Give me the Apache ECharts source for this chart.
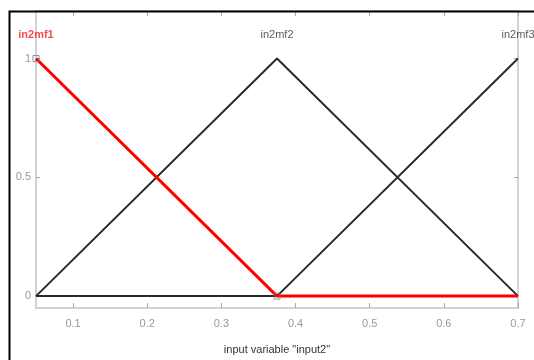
<!DOCTYPE html>
<html>
<head>
<meta charset="utf-8">
<script src="https://cdn.jsdelivr.net/npm/echarts@6/dist/echarts.min.js"></script>
<style>
html,body{margin:0;padding:0;background:#fff;}
#chart{width:534px;height:360px;}
</style>
</head>
<body>
<div id="chart"></div>
<script>
// input2 的三个三角隶属函数
var xPoints = [0.05, 0.375, 0.7];
var mf1 = [1, 0, 0];
var mf2 = [0, 1, 0];
var mf3 = [0, 0, 1];
var mfNames = ['in2mf1', 'in2mf2', 'in2mf3'];
var labelY = 1.1;
var xTicks = [0.1, 0.2, 0.3, 0.4, 0.5, 0.6, 0.7];
var yTicks = [0, 0.5, 1];
var selectedVerts = [[0.05, 1], [0.375, 0]];

var font = '"Liberation Sans Narrow", "Liberation Sans", sans-serif';

function pairs(ys) {
	return xPoints.map(function (x, i) { return [x, ys[i]]; });
}

var axisGray = '#c4c4c4';

function xAxisCfg(pos, showLabel) {
	return {
		type: 'value', position: pos, min: 0.05, max: 0.7,
		axisLine: { show: true, onZero: false, lineStyle: { color: axisGray, width: 1.5 } },
		axisTick: { show: true, inside: true, length: 5, customValues: xTicks, lineStyle: { color: '#aaa' } },
		axisLabel: { show: showLabel, customValues: xTicks, color: '#999', fontFamily: font, fontSize: 11, margin: 10 },
		splitLine: { show: false }
	};
}
function yAxisCfg(pos, showLabel) {
	return {
		type: 'value', position: pos, min: -0.05, max: 1.2,
		axisLine: { show: true, onZero: false, lineStyle: { color: axisGray, width: 1.5 } },
		axisTick: { show: true, inside: true, length: 4, customValues: yTicks, lineStyle: { color: '#aaa' } },
		axisLabel: { show: showLabel, customValues: yTicks, color: '#999', fontFamily: font, fontSize: 11, margin: 5 },
		splitLine: { show: false }
	};
}

var chart = echarts.init(document.getElementById('chart'));
var xa = xAxisCfg('bottom', true);
xa.name = 'input variable "input2"';
xa.nameLocation = 'middle';
xa.nameGap = 36;
xa.nameTextStyle = { color: '#333', fontFamily: font, fontSize: 11 };

var option = {
	animation: false,
	backgroundColor: '#fff',
	grid: { left: 36, top: 11, right: 16, bottom: 45 },
	xAxis: [xa, xAxisCfg('top', false)],
	yAxis: [yAxisCfg('left', true), yAxisCfg('right', false)],
	graphic: [{
		type: 'rect', left: 7, top: 9, z: 100,
		shape: { width: 560, height: 400 },
		style: { fill: 'none', stroke: '#000', lineWidth: 2 }
	}],
	series: [
		{ type: 'line', data: pairs(mf2), symbol: 'none', lineStyle: { color: '#2a2a2a', width: 2 } },
		{ type: 'line', data: pairs(mf3), symbol: 'none', lineStyle: { color: '#2a2a2a', width: 2 } },
		{ type: 'line', data: pairs(mf1), symbol: 'none', lineStyle: { color: '#ff0000', width: 3 } },
		{
			type: 'scatter', data: selectedVerts, symbol: 'rect', symbolSize: 6,
			itemStyle: { color: 'rgba(255,255,255,0)', borderColor: '#777', borderWidth: 1 }, z: 5
		},
		{
			type: 'scatter', symbolSize: 0, silent: true,
			data: mfNames.map(function (n, i) {
				return {
					value: [xPoints[i], labelY], name: n,
					label: { color: i === 0 ? '#ff1a1a' : '#333', fontWeight: i === 0 ? 'bold' : 'normal' }
				};
			}),
			label: { show: true, position: 'inside', formatter: '{b}', fontFamily: font, fontSize: 11 }
		}
	]
};
chart.setOption(option);
</script>
</body>
</html>
